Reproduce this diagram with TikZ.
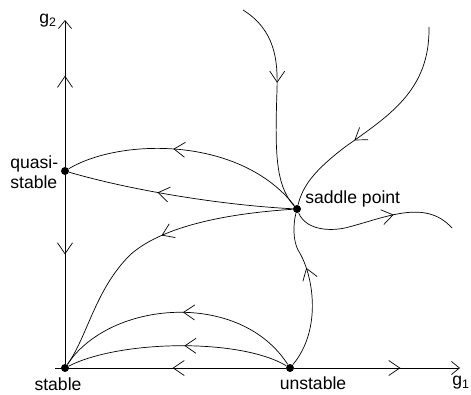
\documentclass[tikz,border=0pt]{standalone}
\usepackage{fontspec}
\setmainfont{Liberation Sans}
\usetikzlibrary{arrows.meta,decorations.markings}

\begin{document}
\begin{tikzpicture}[x=0.03cm,y=-0.03cm,line width=0.6pt,
  barb/.tip={Straight Barb[length=3.3mm,width=4.5mm]},
  tipbarb/.tip={Straight Barb[length=2.4mm,width=3.9mm]},
  dot/.style={circle,fill,inner sep=0pt,minimum size=2.4mm},
  lbl/.style={font=\fontsize{15}{17}\selectfont,inner sep=0pt},
  flow/.style={postaction={decorate},decoration={markings,
    mark=at position #1 with {\arrow{barb}}}}]
\useasboundingbox (0,0) rectangle (471,395);
% fixed points
\node[dot] (stable) at (65,368) {};
\node[dot] (quasi) at (65,171) {};
\node[dot] (saddle) at (297,209) {};
\node[dot] (unstable) at (290,368) {};
\coordinate (xl) at (55,368);
\coordinate (xr) at (460,368);
\coordinate (yt) at (65,20);
% labels
\node[lbl] (g1) at (461,383) {g\textsubscript{1}};
\node[lbl] (g2) at (48,21) {g\textsubscript{2}};
\node[lbl,align=left,anchor=west] (quasilbl) at (10,172) {quasi-\\stable};
\node[lbl] (stablelbl) at (58,384) {stable};
\node[lbl] (unstablelbl) at (313,383) {unstable};
\node[lbl,anchor=west] (saddlelbl) at (305,199) {saddle point};
% axes
\draw[flow=0.49] (unstable) -- (xl);
\draw[flow=0.64,-tipbarb] (unstable) -- (xr);
\draw[flow=0.62,-tipbarb] (quasi) -- (yt);
\draw[flow=0.42] (quasi) -- (stable);
% trajectories
\draw[flow=0.56] (saddle) .. controls (240,136) and (120,138) .. (quasi);
\draw[flow=0.6] (saddle) .. controls (220,205) and (130,190) .. (quasi);
\draw[flow=0.45] (saddle) .. controls (220,214) and (160,228) .. (130,255)
  .. controls (95,290) and (88,335) .. (stable);
\draw[flow=0.48] (unstable) .. controls (240,290) and (110,300) .. (stable);
\draw[flow=0.47] (unstable) .. controls (240,338) and (120,340) .. (stable);
\draw[flow=0.64] (unstable) .. controls (322,330) and (314,275) .. (298,250)
  .. controls (293,240) and (293,225) .. (saddle);
\draw[flow=0.4] (243,10) .. controls (275,30) and (278,60) .. (277,90)
  .. controls (275,150) and (275,185) .. (saddle);
\draw[flow=0.62] (429,27) .. controls (430,90) and (390,115) .. (345,147)
  .. controls (315,170) and (303,185) .. (saddle);
\draw[flow=0.62] (saddle) .. controls (305,228) and (325,232) .. (345,228)
  .. controls (385,218) and (425,198) .. (452,228);
\end{tikzpicture}
\end{document}
